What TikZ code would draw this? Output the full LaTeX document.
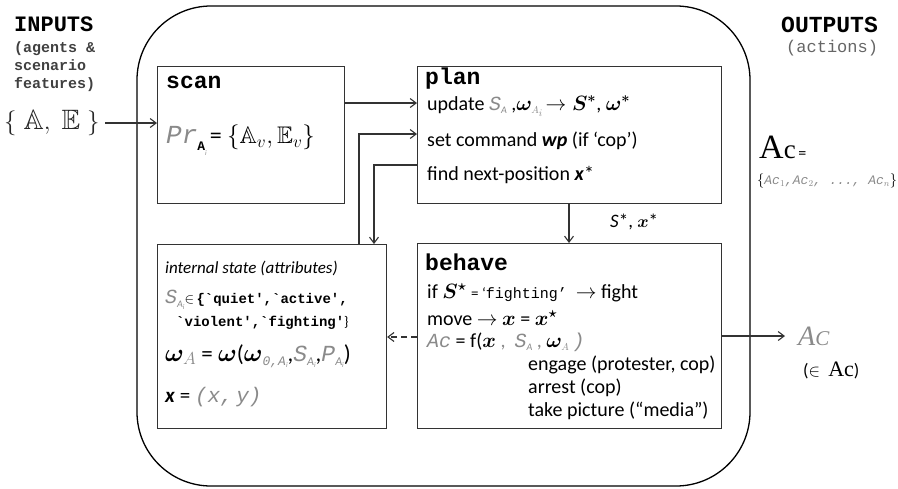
\documentclass[tikz,border=0pt]{standalone}
\usepackage{amsmath,amssymb,bm}
\usepackage{fontspec}
\setmainfont{Carlito}
\setmonofont{Liberation Mono}
\newfontfamily\serifac{Liberation Serif}
\usetikzlibrary{arrows.meta}
\definecolor{gtxt}{HTML}{8A8A8A}
\definecolor{lines}{HTML}{333333}
\newcommand{\gm}[1]{\textcolor{gtxt}{\ttfamily\itshape #1}}
\newcommand{\gsub}[1]{\textcolor{gtxt}{\textit{#1}}}
\tikzset{
  box/.style={draw=lines, line width=1.1pt},
  conn/.style={draw=lines, line width=1.1pt, -{Straight Barb[length=6pt,width=9pt]}},
  hdr/.style={anchor=west, font=\ttfamily\bfseries\fontsize{23}{25}\selectfont, inner sep=0pt},
  body/.style={anchor=west, font=\fontsize{20}{22}\selectfont, inner sep=0pt},
  small/.style={anchor=west, font=\fontsize{17}{19}\selectfont, inner sep=0pt},
}
\begin{document}
\begin{tikzpicture}[x=1pt,y=-1pt]
\path[use as bounding box, fill=white] (0,0) rectangle (898,488);
% outer rounded frame
\draw[draw=black, line width=1.3pt, rounded corners=74pt] (137,6) rectangle (750,486);
% boxes
\node[box, minimum width=187pt, minimum height=137pt, anchor=north west, inner sep=0pt] (scan) at (157,66) {};
\node[box, minimum width=304pt, minimum height=137pt, anchor=north west, inner sep=0pt] (plan) at (417,66) {};
\node[box, minimum width=229pt, minimum height=184pt, anchor=north west, inner sep=0pt] (state) at (157,244) {};
\node[box, minimum width=304pt, minimum height=185pt, anchor=north west, inner sep=0pt] (behave) at (417,243) {};
% left texts
\node[anchor=west, inner sep=0pt, font=\ttfamily\bfseries\fontsize{22}{24}\selectfont] (inputs) at (14,24) {INPUTS};
\node[anchor=north west, inner sep=0pt, align=left, font=\ttfamily\bfseries\fontsize{15}{18}\selectfont, text=black!75] (inputsub) at (14,41) {(agents \&\\scenario\\features)};
\node[anchor=west, inner sep=0pt, font=\fontsize{28}{30}\selectfont, text=black!85] (ae) at (4,123) {$\{\;\mathbb{A},\;\mathbb{E}\;\}$};
% right texts
\node[anchor=west, inner sep=0pt, font=\ttfamily\bfseries\fontsize{23}{25}\selectfont] (outputs) at (781,25) {OUTPUTS};
\node[anchor=west, inner sep=0pt, font=\ttfamily\fontsize{17}{19}\selectfont, text=black!60] (actions) at (786,48) {(actions)};
\node[anchor=west, inner sep=0pt] (acall) at (759,147) {{\serifac\fontsize{34}{36}\selectfont A}{\serifac\fontsize{27}{29}\selectfont c}{\fontsize{16}{18}\selectfont\,=}};
\node[anchor=west, inner sep=0pt, font=\fontsize{15}{17}\selectfont] (acset) at (757,181) {$\{$\gm{\fontsize{13}{15}\selectfont Ac$_1$,Ac$_2$, ..., Ac$_n$}$\}$};
\coordinate (acend) at (785,336);
\node[anchor=west, inner sep=0pt, font=\fontsize{28}{30}\selectfont] (acone) at (798,336) {\textcolor{gtxt}{\serifac\itshape A\fontsize{21}{22}\selectfont C}};
\node[anchor=west, inner sep=0pt, font=\fontsize{18}{20}\selectfont] (acin) at (803,370) {($\in$\ \ {\serifac\fontsize{22}{24}\selectfont Ac})};
% scan content
\node[hdr] (scanh) at (166,82) {scan};
\node[anchor=west, inner sep=0pt] (pr) at (166,140) {{\fontsize{26}{28}\selectfont\gm{Pr}}\raisebox{-7pt}{\fontsize{13}{14}\selectfont\ttfamily\bfseries A}\raisebox{-12pt}{\fontsize{7}{8}\selectfont\gsub{i}}\kern3pt{\fontsize{24}{26}\selectfont= $\{\mathbb{A}_{v},\mathbb{E}_{v}\}$}};
% plan content
\node[hdr] (planh) at (425,79) {plan};
\node[body] (p1) at (427,106) {update \gm{S}\raisebox{-3pt}{\fontsize{10}{11}\selectfont\gsub{A}} ,$\bm{\omega}_{\textcolor{gtxt}{\scriptscriptstyle A_i}}\!\rightarrow \bm{S^*}$, $\bm{\omega^*}$};
\node[body] (p2) at (427,141) {set command \textbf{\textit{wp}} (if ‘cop’)};
\node[body] (p3) at (427,175) {find next-position \textbf{\textit{x}}*};
% internal state content
\node[small] (st0) at (165,268) {\textit{internal state (attributes)}};
\node[anchor=west, inner sep=0pt] (st1) at (165,300) {{\fontsize{20}{22}\selectfont\gm{S}}\raisebox{-4pt}{\fontsize{10}{11}\selectfont\gsub{A}\raisebox{-2pt}{\fontsize{7}{8}\selectfont\gsub{i}}}{\fontsize{14}{16}\selectfont$\in$\,\ttfamily\bfseries\{`quiet',`active',}};
\node[anchor=west, inner sep=0pt] (st2) at (176,323) {\fontsize{14}{16}\selectfont\ttfamily\bfseries `violent',`fighting'\normalfont\}};
\node[anchor=west, inner sep=0pt, font=\fontsize{23}{25}\selectfont] (st3) at (165,356) {$\bm{\omega}_{\textcolor{gtxt}{A}}$ = $\bm{\omega}$($\bm{\omega}$\raisebox{-4pt}{\fontsize{13}{14}\selectfont\gm{0,A}\raisebox{-2pt}{\fontsize{7}{8}\selectfont\gsub{i}}},\gm{S}\raisebox{-4pt}{\fontsize{12}{13}\selectfont\gsub{A}\raisebox{-2pt}{\fontsize{7}{8}\selectfont\gsub{i}}},\gm{P}\raisebox{-4pt}{\fontsize{12}{13}\selectfont\gsub{A}\raisebox{-2pt}{\fontsize{7}{8}\selectfont\gsub{i}}})};
\node[anchor=west, inner sep=0pt, font=\fontsize{21}{23}\selectfont] (st4) at (165,397) {\textbf{\textit{x}} = \gm{(x,\,y)}};
% behave content
\node[hdr] (behh) at (425,262) {behave};
\node[body] (b1) at (427,293) {if $\bm{S^\star}$ {\fontsize{15}{17}\selectfont= ‘\ttfamily fighting’}\ \ $\rightarrow$ fight};
\node[body] (b2) at (427,318) {move $\rightarrow$ $\bm{x}$ = $\bm{x^\star}$};
\node[body] (b3) at (427,342) {\gm{Ac} = f($\bm{x}$\ \textcolor{gtxt}{,}\ \ \gm{S}\raisebox{-3pt}{\fontsize{10}{11}\selectfont\gsub{A}}\ \textcolor{gtxt}{,}\ $\bm{\omega}_{\textcolor{gtxt}{\scriptscriptstyle A}}$\,\gm{)}};
\node[body] (b4) at (528,365) {engage (protester, cop)};
\node[body] (b5) at (528,388) {arrest (cop)};
\node[body] (b6) at (528,411) {take picture (“media”)};
% connector label
\node[anchor=west, inner sep=0pt, font=\fontsize{19}{21}\selectfont] (sx) at (610,222) {\textit{S}*, $\bm{x}$*};
% connectors
\coordinate (aein) at (105,123);
\draw[conn] (aein) -- (aein -| scan.west);
\draw[conn] (scan.east |- 0,103) -- (plan.west |- 0,103);
\coordinate (stA) at (359,244);
\draw[conn] (stA) -- (359,134) -- (plan.west |- 0,134);
\coordinate (plB) at (417,165);
\draw[conn] (plB) -- (374,165) -- (374,244);
\coordinate (plC) at (569,203);
\draw[conn] (plC) -- (569,243);
\draw[conn, dashed, dash pattern=on 6pt off 4pt] (behave.west |- 0,337) -- (state.east |- 0,337);
\draw[conn] (behave.east |- 0,336) -- (acend);
\end{tikzpicture}
\end{document}
